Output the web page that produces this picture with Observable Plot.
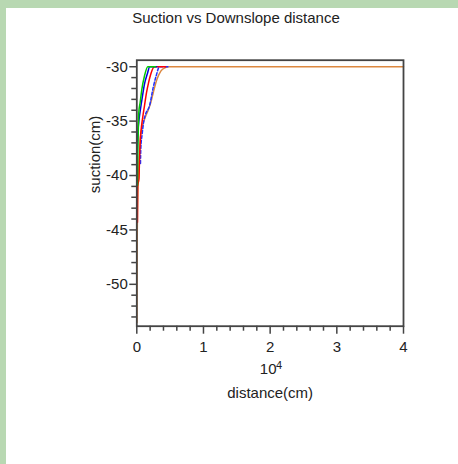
<!DOCTYPE html>
<html><head><meta charset="utf-8">
<script src="https://cdn.jsdelivr.net/npm/d3@7"></script>
<script src="https://cdn.jsdelivr.net/npm/@observablehq/plot@0.6"></script>
<style>
html,body{margin:0;padding:0;width:458px;height:464px;overflow:hidden;background:#b8d8b2;font-family:"Liberation Sans",Arial,sans-serif;}
#panel{position:absolute;left:6px;top:8px;width:452px;height:456px;background:#fff;overflow:hidden;}
#title{position:absolute;left:0;top:1px;width:460px;text-align:center;font-size:15px;line-height:17px;color:#222;}
#chart{position:absolute;left:0;top:22px;}
</style></head>
<body>
<div id="panel"><div id="title">Suction vs Downslope distance</div><div id="chart"></div></div>
<script>
// x values in units of 10^4 cm, y = suction (cm)
const orangeX   = [0.002,0.006,0.015,0.03,0.055,0.09,0.13,0.17,0.21,0.25,0.30,0.36,0.42,0.49,4];
const orangeY   = [-53.5,-46,-42,-39.5,-36.5,-35.3,-34.6,-34.0,-33.3,-32.3,-31.2,-30.4,-30.1,-30,-30];
const blueDashX = [0.055,0.06,0.08,0.105,0.13,0.19,0.25,0.29,0.34,0.47];
const blueDashY = [-38.9,-37.5,-36.2,-35.0,-34.4,-33.6,-31.8,-30.85,-30,-30];
const redX      = [0.01,0.012,0.033,0.04,0.055,0.07,0.09,0.115,0.145,0.175,0.216,0.265,0.43];
const redY      = [-44.3,-41,-40.3,-38.6,-36.5,-35.5,-34.6,-33.6,-32.4,-31.5,-30.55,-30,-30];
const blueX     = [0.005,0.01,0.018,0.035,0.055,0.085,0.115,0.156,0.195,0.3];
const blueY     = [-38.6,-37,-35.9,-34.8,-33.9,-32.7,-31.6,-30.7,-30,-30];
const greenX    = [0.01,0.015,0.02,0.03,0.05,0.075,0.115,0.165,0.28];
const greenY    = [-40.9,-38,-36.5,-34.2,-33.3,-32.1,-30.85,-30,-30];

const xMajor = [0,1,2,3,4];
const xMinor = [0.2,0.4,0.6,0.8,1.2,1.4,1.6,1.8,2.2,2.4,2.6,2.8,3.2,3.4,3.6,3.8];
const yMajor = [-30,-35,-40,-45,-50];
const yMinor = [-31,-32,-33,-34,-36,-37,-38,-39,-41,-42,-43,-44,-46,-47,-48,-49,-51,-52,-53];
const xDomain = [0,4];
const yDomain = [-53.85,-29.4];

const rows = (xs, ys) => xs.map((x,i) => ({x, y: ys[i]}));
const axisColor = "#444";
const lineOpts = {x: "x", y: "y", strokeWidth: 1.5, curve: "monotone-x"};

const chart = Plot.plot({
  width: 452, height: 400,
  marginLeft: 130.3, marginRight: 55, marginTop: 29.7, marginBottom: 104.3,
  x: {domain: xDomain, label: null},
  y: {domain: yDomain, label: null},
  style: {fontFamily: "'Liberation Sans', Arial, sans-serif", fontSize: "15px", color: "#222", background: "transparent", overflow: "visible"},
  marks: [
    Plot.axisX(xMinor, {tickSize: 5, tickFormat: () => "", label: null, stroke: axisColor, strokeWidth: 1.5}),
    Plot.axisX(xMajor, {tickSize: 8, tickPadding: 7, tickFormat: d => `${d}`, label: null, stroke: axisColor, strokeWidth: 1.5, fontSize: 15, fill: "#222"}),
    Plot.axisY(yMinor, {tickSize: 5, tickFormat: () => "", label: null, stroke: axisColor, strokeWidth: 1.5}),
    Plot.axisY(yMajor, {tickSize: 7, tickPadding: 2, tickFormat: d => `${d}`, label: null, stroke: axisColor, strokeWidth: 1.5, fontSize: 15, fill: "#222"}),
    Plot.line(rows(orangeX, orangeY), {...lineOpts, stroke: "#dc8840"}),
    Plot.line(rows(blueDashX, blueDashY), {...lineOpts, stroke: "#2030ff", strokeDasharray: "3,2"}),
    Plot.line(rows(redX, redY), {...lineOpts, stroke: "#ff0000"}),
    Plot.line(rows(blueX, blueY), {...lineOpts, stroke: "#0000e0"}),
    Plot.line(rows(greenX, greenY), {...lineOpts, stroke: "#00c800"}),
    Plot.frame({stroke: axisColor, strokeWidth: 1.8}),
    Plot.text(["suction(cm)"], {frameAnchor: "left", dx: -42, rotate: -90, fontSize: 15, fill: "#222"}),
    Plot.text(["10"], {frameAnchor: "bottom", dx: -2, dy: 48, fontSize: 15, fill: "#222"}),
    Plot.text(["4"], {frameAnchor: "bottom", dx: 9, dy: 43, fontSize: 11, fill: "#222"}),
    Plot.text(["distance(cm)"], {frameAnchor: "bottom", dy: 72, fontSize: 15, fill: "#222"})
  ]
});
document.getElementById("chart").appendChild(chart);
</script>
</body></html>
